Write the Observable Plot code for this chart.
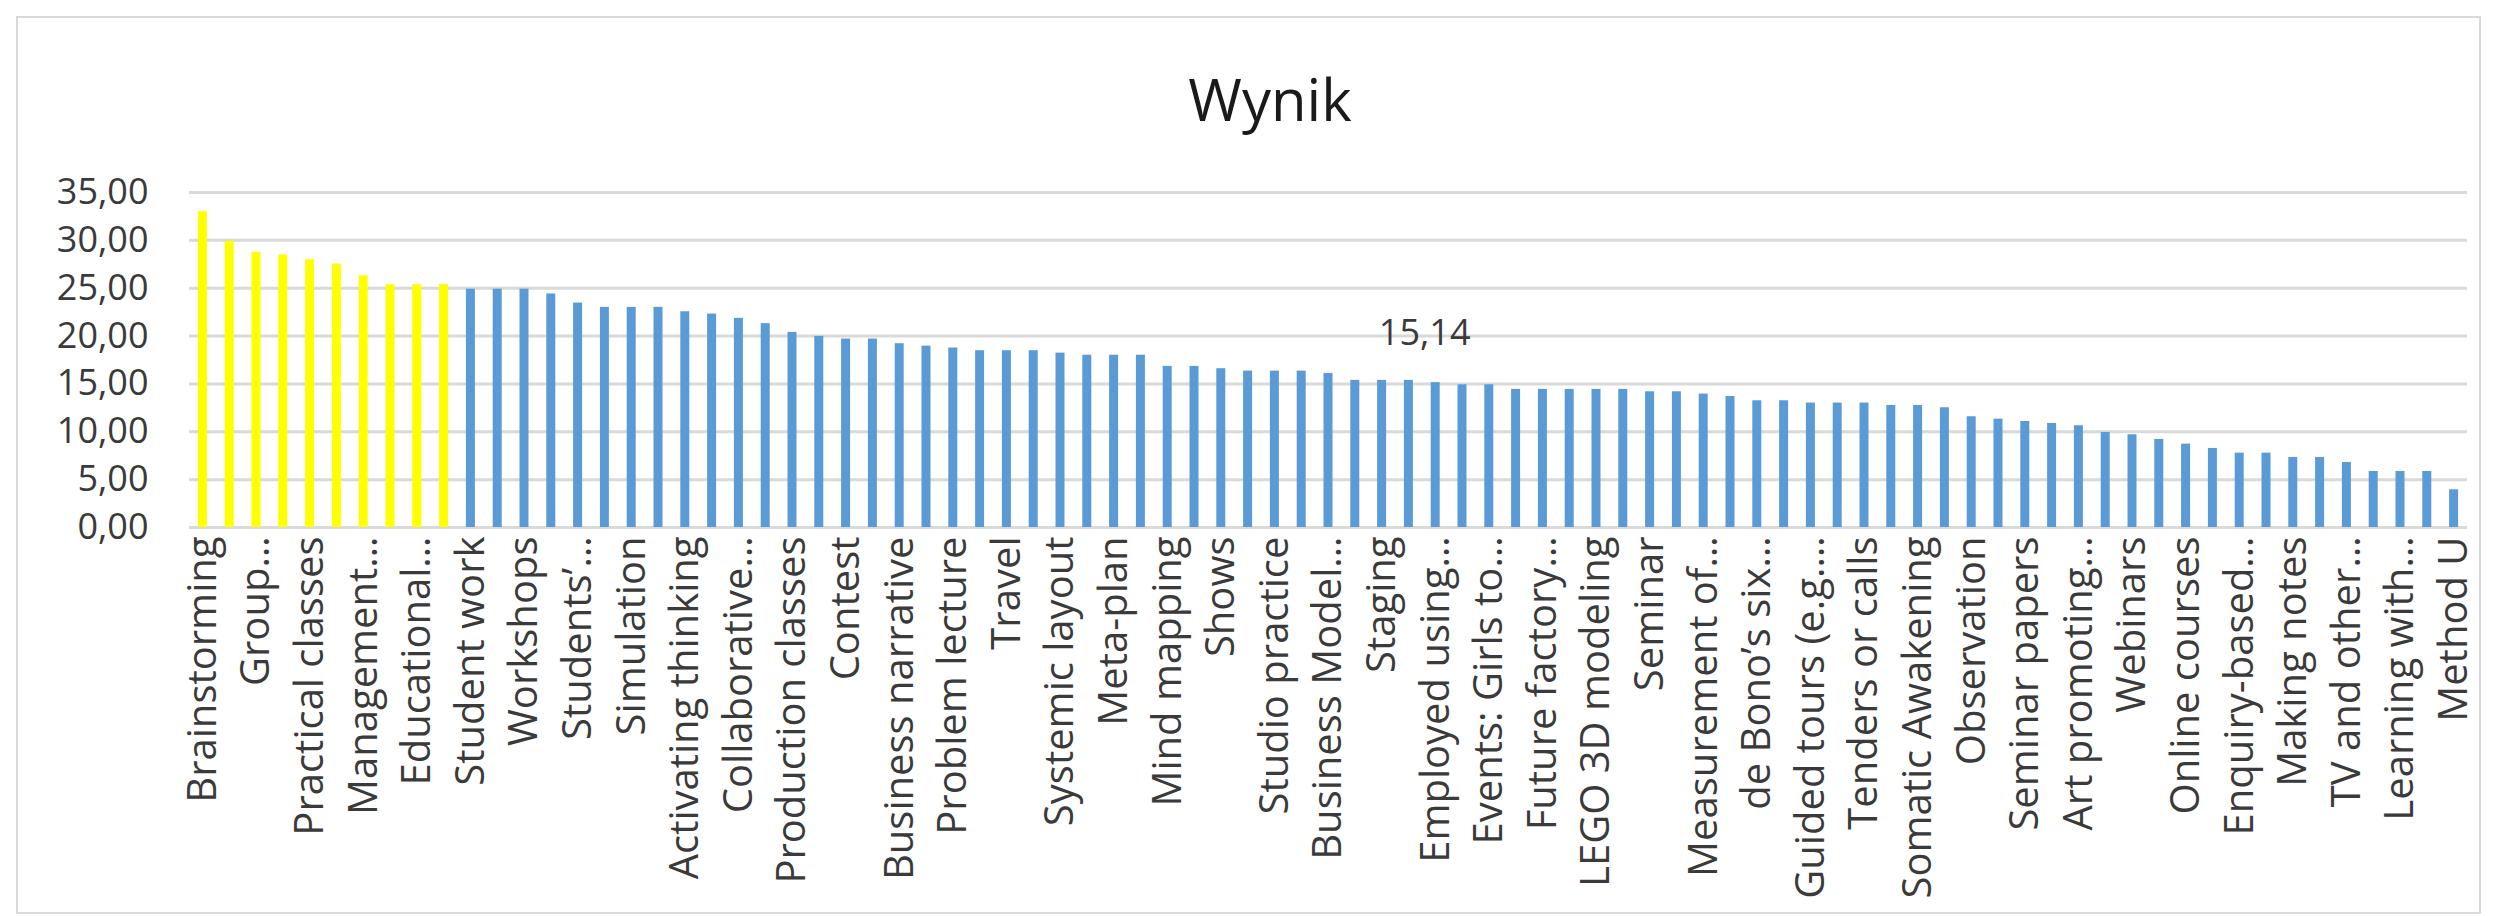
<!DOCTYPE html>
<html>
<head>
<meta charset="utf-8">
<script src="https://cdn.jsdelivr.net/npm/d3@7"></script>
<script src="https://cdn.jsdelivr.net/npm/@observablehq/plot@0.6"></script>
<style>
  html, body { margin: 0; padding: 0; background: #fff; }
  #frame { position: absolute; left: 16px; top: 16px; width: 2465px; height: 898px; border: 2px solid #d9d9d9; box-sizing: border-box; }
  #title { position: absolute; left: 0; top: 64px; width: 2540px; line-height: 70px; text-align: center;
           font-family: "Open Sans", sans-serif; font-size: 58px; color: #1a1a1a; }
  #chart { position: absolute; left: 0; top: 140px; }
</style>
</head>
<body>
<div id="frame"></div>
<div id="title">Wynik</div>
<div id="chart"></div>
<script>
// Category labels shown on the axis (every other bar carries a visible label)
const axisLabels = [
  "Brainstorming", "Group…", "Practical classes", "Management…", "Educational…",
  "Student work", "Workshops", "Students’…", "Simulation", "Activating thinking",
  "Collaborative…", "Production classes", "Contest", "Business narrative", "Problem lecture",
  "Travel", "Systemic layout", "Meta-plan", "Mind mapping", "Shows",
  "Studio practice", "Business Model…", "Staging", "Employed using…", "Events: Girls to…",
  "Future factory…", "LEGO 3D modeling", "Seminar", "Measurement of…", "de Bono’s six…",
  "Guided tours (e.g.…", "Tenders or calls", "Somatic Awakening", "Observation", "Seminar papers",
  "Art promoting…", "Webinars", "Online courses", "Enquiry-based…", "Making notes",
  "TV and other…", "Learning with…", "Method U"
];

// Bar values (Wynik), in order, 85 bars
const values = [
  33.0, 29.9, 28.75, 28.47, 27.98, 27.53, 26.3, 25.37, 25.37, 25.4,
  24.9, 24.9, 24.9, 24.4, 23.45, 23.0, 23.0, 23.0, 22.54, 22.3,
  21.85, 21.3, 20.38, 19.97, 19.69, 19.69, 19.2, 18.95, 18.75, 18.47,
  18.47, 18.47, 18.22, 18.0, 18.0, 18.0, 16.83, 16.83, 16.59, 16.34,
  16.34, 16.34, 16.1, 15.37, 15.37, 15.37, 15.14, 14.91, 14.91, 14.43,
  14.43, 14.43, 14.43, 14.43, 14.18, 14.18, 13.94, 13.69, 13.24, 13.24,
  13.0, 13.0, 13.0, 12.75, 12.75, 12.51, 11.57, 11.32, 11.08, 10.87,
  10.63, 9.93, 9.69, 9.2, 8.71, 8.26, 7.77, 7.77, 7.32, 7.32,
  6.79, 5.85, 5.85, 5.85, 3.94
];

// Number of highlighted (yellow) leading bars
const highlightedCount = 10;

// Bars carrying a data label
const labelledBars = [46];

// Y-axis tick values
const yTicks = [0, 5, 10, 15, 20, 25, 30, 35];

const fmt = v => d3.format(".2f")(v).replace(".", ",");

const data = values.map((v, i) => ({
  index: i,
  value: v,
  label: i % 2 === 0 ? axisLabels[i / 2] : "",
  group: i < highlightedCount ? "top" : "rest"
}));
const labelledTicks = data.filter(d => d.label !== "").map(d => d.index);

const chart = Plot.plot({
  width: 2497,
  height: 770,
  marginLeft: 189,
  marginRight: 30,
  marginTop: 52,
  marginBottom: 383,
  style: { fontFamily: "Open Sans, sans-serif", fontSize: "36px", color: "#3a3a3a", background: "transparent", overflow: "visible" },
  x: { type: "band", domain: data.map(d => d.index), paddingInner: 0.664, paddingOuter: 0.332, axis: null },
  y: { domain: [0, 35], axis: null },
  color: { domain: ["top", "rest"], range: ["#FFFF00", "#5B9BD5"] },
  marks: [
    Plot.gridY(yTicks, { stroke: "#d9d9d9", strokeOpacity: 1, strokeWidth: 3 }),
    Plot.barY(data, { x: "index", y: "value", fill: "group" }),
    Plot.axisY({ ticks: yTicks, tickSize: 0, tickPadding: 41, tickFormat: fmt, label: null, fontSize: 36 }),
    Plot.axisX({ ticks: labelledTicks, tickSize: 0, tickPadding: 9, tickRotate: -90,
                 tickFormat: i => data[i].label, label: null, fontSize: 40 }),
    Plot.text(labelledBars, { x: i => i, y: i => values[i], text: i => fmt(values[i]),
                              dy: -49, dx: -11, fontSize: 36, fill: "#3a3a3a" })
  ]
});
document.getElementById("chart").appendChild(chart);
</script>
</body>
</html>
